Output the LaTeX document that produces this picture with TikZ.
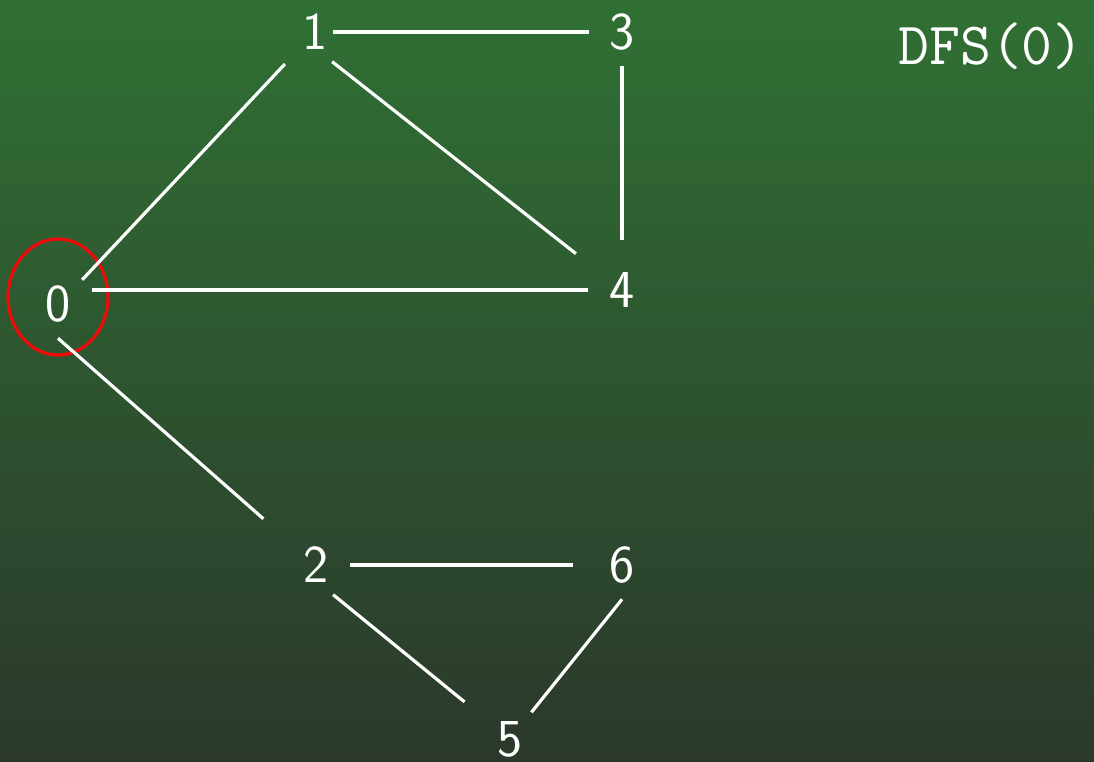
\documentclass[tikz,border=0pt]{standalone}
\usepackage{fontspec}
\usetikzlibrary{shapes.geometric}
\definecolor{bgtop}{RGB}{48,112,52}
\definecolor{bgbot}{RGB}{43,56,43}
\definecolor{mark}{RGB}{240,10,10}
\tikzset{
  vertex/.style={circle, inner sep=0pt, minimum size=51pt, text=white, font=\sffamily\fontsize{40}{44}\selectfont},
  edge/.style={draw=white, line width=2.4pt},
  hilite/.style={draw=mark, line width=2.4pt, ellipse, minimum width=75pt, minimum height=87pt, inner sep=0pt}
}
\begin{document}
\begin{tikzpicture}[x=0.75pt,y=-0.75pt]
\shade[top color=bgtop, bottom color=bgbot] (0,0) rectangle (1094,761);
\useasboundingbox (0,0) rectangle (1094,761);
\node[vertex] (n0) at (58,304) {0};
\node[vertex] (n1) at (315,32) {1};
\node[vertex] (n3) at (622,32) {3};
\node[vertex] (n4) at (622,290) {4};
\node[vertex] (n2) at (316,565) {2};
\node[vertex] (n6) at (622,565) {6};
\node[vertex] (n5) at (510,739) {5};
\node[text=white, font=\ttfamily\fontsize{45}{50}\selectfont] (dfs) at (991,46) {DFS(0)};
\node[hilite] (h0) at (58,297) {};
\draw[edge, shorten <=13.5pt, shorten >=24.75pt] (n1.center) -- (n3.center);
\draw[edge, shorten >=44pt] (n1.-60) -- (n4.center);
\draw[edge, shorten >=37.5pt] (n3) -- (n4.center);
\draw[edge, shorten >=33pt] (n0.north east) -- (n1.center);
\draw[edge] (n0.east |- n4.center) -- (n4);
\draw[edge, shorten >=52.5pt] (n0.south) -- (n2.center);
\draw[edge, shorten >=37pt] (n2) -- (n6.center);
\draw[edge, shorten >=44pt] (n2.-60) -- (n5.center);
\draw[edge] (n6.south) -- (n5);
\end{tikzpicture}
\end{document}
